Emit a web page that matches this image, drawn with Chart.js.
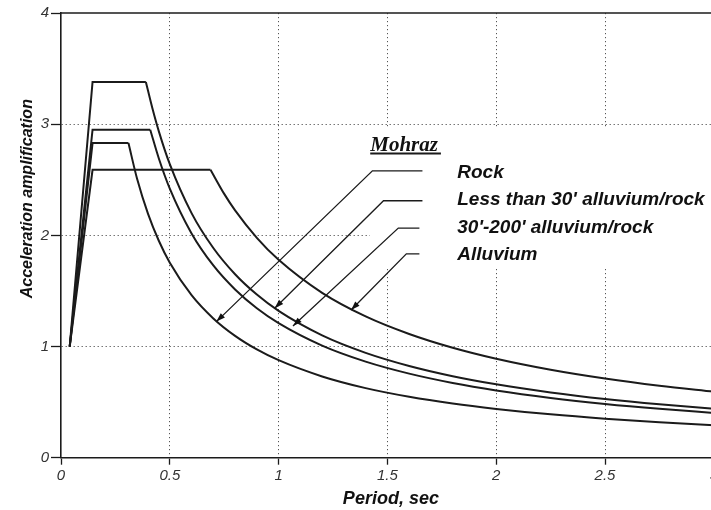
<!DOCTYPE html>
<html>
<head>
<meta charset="utf-8">
<script src="https://cdn.jsdelivr.net/npm/chart.js@4/dist/chart.umd.min.js"></script>
<style>
  html, body { margin: 0; padding: 0; background: #fff; overflow: hidden; }
  canvas { display: block; }
</style>
</head>
<body>
<canvas id="chart" width="720" height="510"></canvas>
<script>
// Mohraz average acceleration amplification spectra: period (s) vs amplification.
// Each curve: start, end of ramp, end of plateau, then the decaying branch.
const rockPeriods = [0.04, 0.145, 0.31, 0.35, 0.40, 0.45, 0.50, 0.60, 0.70, 0.80, 0.90, 1.00, 1.20, 1.40, 1.60, 1.80, 2.00, 2.25, 2.50, 2.75, 3.00];
const rockAmps    = [1.00, 2.83, 2.83, 2.506, 2.193, 1.949, 1.754, 1.462, 1.253, 1.096, 0.974, 0.877, 0.731, 0.626, 0.548, 0.487, 0.439, 0.390, 0.351, 0.319, 0.292];

const shallowPeriods = [0.04, 0.145, 0.39, 0.42, 0.45, 0.50, 0.60, 0.70, 0.80, 0.90, 1.00, 1.20, 1.40, 1.60, 1.80, 2.00, 2.25, 2.50, 2.75, 3.00];
const shallowAmps    = [1.00, 3.38, 3.38, 3.143, 2.933, 2.640, 2.200, 1.886, 1.650, 1.467, 1.320, 1.100, 0.943, 0.825, 0.733, 0.660, 0.587, 0.528, 0.480, 0.440];

const mediumPeriods = [0.04, 0.145, 0.41, 0.45, 0.50, 0.60, 0.70, 0.80, 0.90, 1.00, 1.20, 1.40, 1.60, 1.80, 2.00, 2.25, 2.50, 2.75, 3.00];
const mediumAmps    = [1.00, 2.95, 2.95, 2.689, 2.420, 2.017, 1.729, 1.513, 1.344, 1.210, 1.008, 0.864, 0.756, 0.672, 0.605, 0.538, 0.484, 0.440, 0.403];

const alluviumPeriods = [0.04, 0.145, 0.687, 0.75, 0.80, 0.90, 1.00, 1.20, 1.40, 1.60, 1.80, 2.00, 2.25, 2.50, 2.75, 3.00];
const alluviumAmps    = [1.00, 2.59, 2.59, 2.373, 2.225, 1.978, 1.780, 1.483, 1.271, 1.113, 0.989, 0.890, 0.791, 0.712, 0.647, 0.593];

// Axis tick labels
const xTickLabels = ['0', '0.5', '1', '1.5', '2', '2.5', '3'];
const yTickLabels = ['0', '1', '2', '3', '4'];

// Key text and leader lines (in period / amplification units)
const keyTitle = 'Mohraz';
const curveLabels = ['Rock', "Less than 30' alluvium/rock", "30'-200' alluvium/rock", 'Alluvium'];
const labelT = 1.821;
const labelBaseA = [2.518, 2.273, 2.021, 1.778];
const leaderStartT = [1.431, 1.482, 1.550, 1.587];
const leaderEndT   = [1.661, 1.661, 1.647, 1.647];
const leaderA      = [2.580, 2.311, 2.065, 1.833];
const tipT = [0.714, 0.982, 1.066, 1.333];
const tipA = [1.224, 1.345, 1.185, 1.329];

const SANS = "'Liberation Sans', Arial, Helvetica, sans-serif";
const SERIF = "'Liberation Serif', 'Times New Roman', serif";
const INK = '#1b1b1b';

function toPoints(ts, as, from, to) {
  return ts.slice(from, to).map((t, i) => ({ x: t, y: as[from + i] }));
}

const curves = [
  [rockPeriods, rockAmps],
  [shallowPeriods, shallowAmps],
  [mediumPeriods, mediumAmps],
  [alluviumPeriods, alluviumAmps]
];

const datasets = [];
curves.forEach(([ts, as]) => {
  // straight ramp and flat plateau
  datasets.push({
    data: toPoints(ts, as, 0, 3),
    borderColor: INK, borderWidth: 2, pointRadius: 0, tension: 0, fill: false
  });
  // smooth decaying branch
  datasets.push({
    data: toPoints(ts, as, 2, ts.length),
    borderColor: INK, borderWidth: 2, pointRadius: 0, fill: false,
    cubicInterpolationMode: 'monotone'
  });
});

const decor = {
  id: 'decor',
  beforeDatasetsDraw(chart) {
    // clear the grid behind the key
    const { ctx, scales: { x, y } } = chart;
    const l = x.getPixelForValue(1.42);
    const t = y.getPixelForValue(2.97);
    const b = y.getPixelForValue(1.71);
    ctx.save();
    ctx.fillStyle = '#fff';
    ctx.fillRect(l, t, chart.width - l, b - t);
    ctx.restore();
  },
  afterDraw(chart) {
    const { ctx, chartArea: ca, scales: { x, y } } = chart;
    ctx.save();

    // top frame line
    ctx.strokeStyle = INK;
    ctx.lineWidth = 1.6;
    ctx.beginPath();
    ctx.moveTo(ca.left, y.getPixelForValue(4));
    ctx.lineTo(chart.width, y.getPixelForValue(4));
    ctx.stroke();

    // key title with underline
    ctx.fillStyle = '#111';
    ctx.font = 'italic bold 21px ' + SERIF;
    ctx.textBaseline = 'alphabetic';
    ctx.textAlign = 'left';
    const kx = x.getPixelForValue(1.421);
    const ky = y.getPixelForValue(2.763);
    ctx.fillText(keyTitle, kx, ky);
    const kw = ctx.measureText(keyTitle).width;
    ctx.lineWidth = 2;
    ctx.beginPath();
    ctx.moveTo(kx, ky + 3);
    ctx.lineTo(kx + kw + 3, ky + 3);
    ctx.stroke();

    // curve labels
    ctx.font = 'italic bold 19px ' + SANS;
    curveLabels.forEach((txt, i) => {
      ctx.fillText(txt, x.getPixelForValue(labelT), y.getPixelForValue(labelBaseA[i]));
    });

    // leader lines with arrowheads
    ctx.lineWidth = 1.3;
    curveLabels.forEach((_, i) => {
      const x0 = x.getPixelForValue(leaderEndT[i]);
      const x1 = x.getPixelForValue(leaderStartT[i]);
      const yy = y.getPixelForValue(leaderA[i]);
      const tx = x.getPixelForValue(tipT[i]);
      const ty = y.getPixelForValue(tipA[i]);
      ctx.beginPath();
      ctx.moveTo(x0, yy);
      ctx.lineTo(x1, yy);
      ctx.lineTo(tx, ty);
      ctx.stroke();
      const ang = Math.atan2(ty - yy, tx - x1);
      const len = 9, half = 3;
      const bx = tx - len * Math.cos(ang), by = ty - len * Math.sin(ang);
      ctx.beginPath();
      ctx.moveTo(tx, ty);
      ctx.lineTo(bx + half * Math.sin(ang), by - half * Math.cos(ang));
      ctx.lineTo(bx - half * Math.sin(ang), by + half * Math.cos(ang));
      ctx.closePath();
      ctx.fill();
    });

    // axis titles
    ctx.font = 'italic bold 18px ' + SANS;
    ctx.textAlign = 'center';
    ctx.fillText('Period, sec', x.getPixelForValue(1.516), ca.bottom + 46);

    ctx.font = 'italic bold 16px ' + SANS;
    ctx.translate(ca.left - 33, y.getPixelForValue(2.33));
    ctx.rotate(-Math.PI / 2);
    ctx.textBaseline = 'middle';
    ctx.fillText('Acceleration amplification', 0, 0);

    ctx.restore();
  }
};

const tickFont = { family: SANS, style: 'italic', size: 15 };

new Chart(document.getElementById('chart'), {
  type: 'line',
  data: { datasets },
  options: {
    responsive: false,
    animation: false,
    events: [],
    layout: { padding: { top: 13, right: 5, left: 0, bottom: 0 } },
    plugins: { legend: { display: false }, tooltip: { enabled: false } },
    scales: {
      x: {
        type: 'linear', min: 0, max: 3,
        afterFit(s) { s.height = 52.3; },
        ticks: {
          stepSize: 0.5, autoSkip: false, maxRotation: 0,
          callback: (v, i) => xTickLabels[i],
          font: tickFont, color: '#333', padding: 2
        },
        grid: {
          color: c => (c.tick && c.tick.value === 0) ? 'rgba(0,0,0,0)' : '#555',
          lineWidth: 1, tickLength: 7, tickColor: INK, tickWidth: 1.3, tickBorderDash: []
        },
        border: { color: INK, width: 1.6, dash: [1.2, 2.8] }
      },
      y: {
        type: 'linear', min: 0, max: 4,
        afterFit(s) { s.width = 61; },
        ticks: {
          stepSize: 1,
          callback: (v, i) => yTickLabels[i],
          font: tickFont, color: '#333', padding: 2
        },
        grid: {
          color: c => (c.tick && (c.tick.value === 0 || c.tick.value === 4)) ? 'rgba(0,0,0,0)' : '#555',
          lineWidth: 1, tickLength: 10, tickColor: INK, tickWidth: 1.3, tickBorderDash: []
        },
        border: { color: INK, width: 1.6, dash: [1.2, 2.8] }
      }
    }
  },
  plugins: [decor]
});
</script>
</body>
</html>
